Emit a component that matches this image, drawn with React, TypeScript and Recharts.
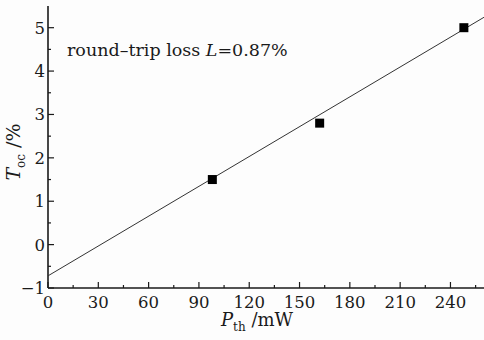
import React from 'react';
import { ScatterChart, Scatter, XAxis, YAxis, Label } from 'recharts';

// measured points (P_th in mW, T_oc in %)
const pth = [98, 162, 248];
const toc = [1.5, 2.8, 5.0];

// linear fit drawn across the whole axis
const fitX = [0, 260];
const fitY = [-0.72, 5.24];

const xTicks = [0, 15, 30, 45, 60, 75, 90, 105, 120, 135, 150, 165, 180, 195, 210, 225, 240, 255];
const yTicks = [-1, -0.5, 0, 0.5, 1, 1.5, 2, 2.5, 3, 3.5, 4, 4.5, 5];

const points = pth.map((x, i) => ({ x, y: toc[i] }));
const fitLine = fitX.map((x, i) => ({ x, y: fitY[i] }));

const FONT = '"DejaVu Serif", serif';
const INK = '#1a1a1a';

const fmt = (v: number) => (v < 0 ? '\u2212' + Math.abs(v) : String(v));

const XTick = (props: any) => {
  const { x, y, payload } = props;
  const major = payload.value % 30 === 0;
  return (
    <g>
      <line x1={x} y1={y} x2={x} y2={y - (major ? 6 : 3)} stroke={INK} strokeWidth={1.2} />
      {major && (
        <text x={x} y={y + 20} textAnchor="middle" fontFamily={FONT} fontSize={16.5} fill={INK}>
          {payload.value}
        </text>
      )}
    </g>
  );
};

const YTick = (props: any) => {
  const { x, y, payload } = props;
  const major = Number.isInteger(payload.value);
  return (
    <g>
      <line x1={x} y1={y} x2={x + (major ? 6 : 3)} y2={y} stroke={INK} strokeWidth={1.2} />
      {major && (
        <text x={x - 3} y={y + 6} textAnchor="end" fontFamily={FONT} fontSize={16.5} fill={INK}>
          {fmt(payload.value)}
        </text>
      )}
    </g>
  );
};

const Square = (props: any) => {
  const { cx, cy } = props;
  return <rect x={cx - 4.5} y={cy - 4.5} width={9} height={9} fill="#000" />;
};

const Nothing = () => <g />;

const App: React.FC = () => {
  return (
    <div style={{ position: 'absolute', left: 0, top: 0, width: 484, height: 340, background: '#fdfdfd' }}>
      <ScatterChart width={484} height={340} margin={{ top: 6, right: 0, bottom: 0, left: 0 }}>
        <XAxis
          xAxisId="top"
          orientation="top"
          type="number"
          dataKey="x"
          domain={[0, 260]}
          height={0}
          tick={false}
          tickLine={false}
          axisLine={{ stroke: INK, strokeWidth: 1.6 }}
        />
        <XAxis
          type="number"
          dataKey="x"
          domain={[0, 260]}
          ticks={xTicks}
          interval={0}
          height={52}
          tickSize={0}
          tickMargin={0}
          tickLine={false}
          tick={<XTick />}
          axisLine={{ stroke: INK, strokeWidth: 1.6 }}
        >
          <Label
            content={() => (
              <text x={257} y={326} textAnchor="middle" fontFamily={FONT} fontSize={18} fill={INK}>
                <tspan fontStyle="italic">P</tspan>
                <tspan fontSize={12} dy={5}>th</tspan>
                <tspan dy={-5}> /mW</tspan>
              </text>
            )}
          />
        </XAxis>
        <YAxis
          type="number"
          dataKey="y"
          domain={[-1, 5.5]}
          ticks={yTicks}
          interval={0}
          width={48}
          tickSize={0}
          tickMargin={0}
          tickLine={false}
          tick={<YTick />}
          axisLine={{ stroke: INK, strokeWidth: 1.6 }}
        >
          <Label
            content={() => (
              <text
                x={0}
                y={0}
                transform="translate(20 152) rotate(-90)"
                textAnchor="middle"
                fontFamily={FONT}
                fontSize={19}
                fill={INK}
              >
                <tspan fontStyle="italic">T</tspan>
                <tspan fontSize={12} dy={5}>oc</tspan>
                <tspan dy={-5}> /%</tspan>
              </text>
            )}
          />
        </YAxis>
        <Scatter
          data={fitLine}
          line={{ stroke: '#333', strokeWidth: 1 }}
          shape={<Nothing />}
          isAnimationActive={false}
        />
        <Scatter data={points} shape={<Square />} isAnimationActive={false} />
        <text x={67} y={56} fontFamily={FONT} fontSize={17.5} fill={INK}>
          round{'\u2013'}trip loss <tspan fontStyle="italic">L</tspan>=0.87%
        </text>
      </ScatterChart>
    </div>
  );
};

export default App;
